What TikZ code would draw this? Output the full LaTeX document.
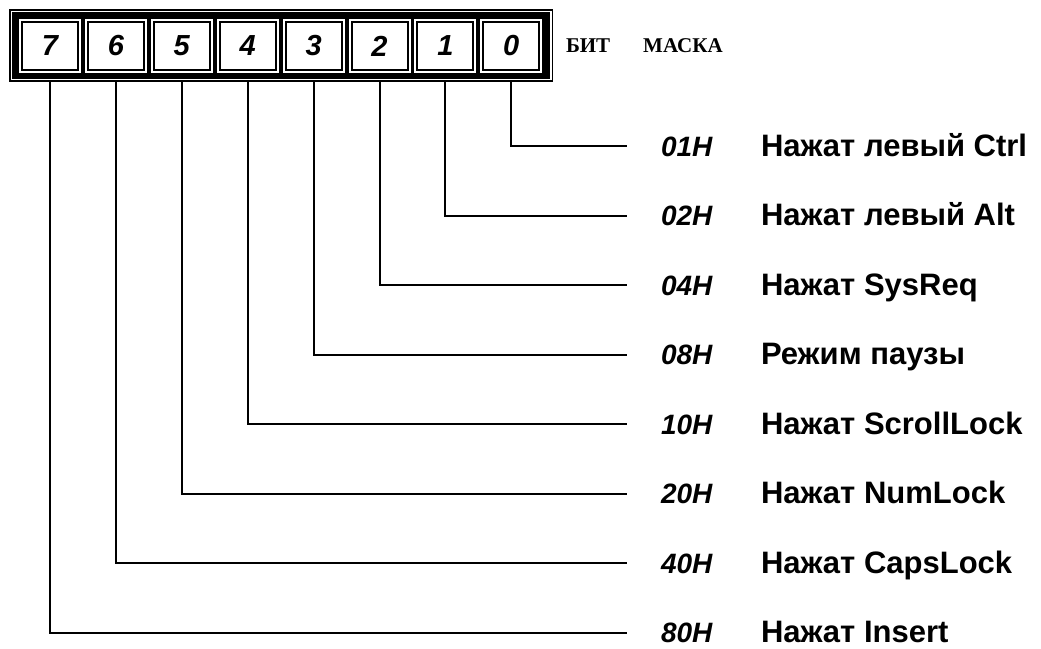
\documentclass[tikz,border=0pt]{standalone}
\usepackage{fontspec}
\setmainfont{Liberation Sans}
\newfontfamily\tagfont{Liberation Serif}
\usetikzlibrary{positioning}

\begin{document}
\begin{tikzpicture}[x=1pt, y=-1pt, line width=2pt,
   cell/.style={draw=black, double=white, double distance=2pt, line width=2pt, fill=white,
     minimum width=60pt, minimum height=52pt, inner sep=0pt,
     font=\fontsize{29}{30}\selectfont\bfseries\itshape},
   tag/.style={inner sep=0pt, font=\tagfont\fontsize{21}{24}\selectfont\bfseries},
   hex/.style={inner sep=0pt, anchor=base west, font=\fontsize{28}{32}\selectfont\bfseries\itshape},
   desc/.style={inner sep=0pt, anchor=base west, font=\fontsize{31}{34}\selectfont\bfseries}]
  \useasboundingbox (0,0) rectangle (1041,648);
  % register frame
  \node[draw=black, double=white, double distance=1.5pt, line width=1.5pt, fill=black,
        minimum width=539.5pt, minimum height=68pt, inner sep=0pt] (frm) at (281.25,45.5) {};
  \foreach \i in {0,...,7}
    \node[cell] (b\i) at ({50+65.9*(7-\i)},46) {\i};
  \node[tag, anchor=west] (bit) at (565,46) {БИТ};
  \node[tag, right=31pt of bit] (mask) {МАСКА};
  % bit masks
  \foreach \i/\m/\t in {0/01H/Нажат левый Ctrl, 1/02H/Нажат левый Alt, 2/04H/Нажат SysReq,
      3/08H/Режим паузы, 4/10H/Нажат ScrollLock, 5/20H/Нажат NumLock,
      6/40H/Нажат CapsLock, 7/80H/Нажат Insert} {
    \node[hex] (h\i) at (660,{156+69.5*\i}) {\m};
    \node[desc] (d\i) at ([xshift=100pt]h\i.base west) {\t};
    \draw[shorten <=2pt] (b\i.south |- frm.south) |- ([xshift=-33pt]h\i.west);
  }
\end{tikzpicture}
\end{document}
